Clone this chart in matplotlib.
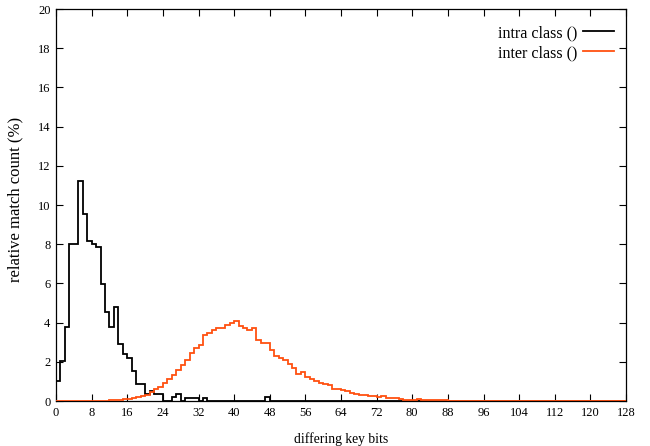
import numpy as np
import matplotlib
matplotlib.use("Agg")
import matplotlib.pyplot as plt
from matplotlib.lines import Line2D

plt.rcParams['font.family'] = ['Liberation Serif', 'DejaVu Serif']
plt.rcParams['font.size'] = 10

# relative match count (%) per number of differing key bits, bins 0..127
intra = [1.0, 2.04, 3.76, 8.0, 8.0, 11.24, 9.55, 8.15, 8.02, 7.84,
         5.97, 4.56, 3.76, 4.8, 2.91, 2.4, 2.2, 1.53, 0.87, 0.87,
         0.37, 0.53, 0.37, 0.37, 0.0, 0.0, 0.19, 0.35, 0.0, 0.17,
         0.17, 0.17, 0.0, 0.17, 0.0, 0.0, 0.0, 0.0, 0.0, 0.0,
         0.0, 0.0, 0.0, 0.0, 0.0, 0.0, 0.0, 0.19] + [0.0] * 80

inter = [0.0] * 10 + [
    0.01, 0.02, 0.03, 0.04, 0.06, 0.08, 0.11, 0.13, 0.19, 0.25,
    0.33, 0.47, 0.6, 0.73, 0.9, 1.1, 1.33, 1.58, 1.84, 2.1,
    2.43, 2.72, 2.86, 3.37, 3.49, 3.62, 3.74, 3.74, 3.88, 3.96,
    4.08, 3.83, 3.71, 3.62, 3.71, 3.11, 2.94, 2.94, 2.6, 2.3,
    2.18, 2.08, 1.9, 1.7, 1.4, 1.5, 1.24, 1.1, 1.02, 0.94,
    0.89, 0.8, 0.6, 0.6, 0.55, 0.5, 0.43, 0.38, 0.33, 0.29,
    0.27, 0.26, 0.2, 0.27, 0.15, 0.15, 0.14, 0.1, 0.07, 0.07,
    0.07, 0.12, 0.06, 0.05, 0.04, 0.04, 0.03, 0.03] + [0.0] * 40

edges = np.arange(129)
xticks = np.arange(0, 129, 8)
yticks = np.arange(0, 21, 2)

orange = '#ff5010'

fig = plt.figure(figsize=(6.5, 4.46), dpi=100)
ax = fig.add_axes([56 / 650, 1 - 401 / 446, 570 / 650, 392 / 446])

ax.stairs(intra, edges, color='black', linewidth=1.3, baseline=None, zorder=2)
ax.stairs(inter, edges, color=orange, linewidth=1.3, baseline=None, zorder=3)

ax.set_xlim(0, 128)
ax.set_ylim(0, 20)
ax.set_xticks(xticks)
ax.set_yticks(yticks)
ax.tick_params(direction='in', top=True, right=True, length=5, width=0.8,
               pad=4, labelsize=9)
for s in ax.spines.values():
    s.set_linewidth(0.9)

ax.set_xlabel('differing key bits', fontsize=9.8, labelpad=10)
ax.set_ylabel('relative match count (%)', fontsize=12)
ax.yaxis.set_label_coords(-0.058, 0.515)

handles = [Line2D([], [], color='black', linewidth=1.3),
           Line2D([], [], color=orange, linewidth=1.3)]
ax.legend(handles, ['intra class ()', 'inter class ()'], loc='upper right',
          bbox_to_anchor=(614 / 650, 1 - 25 / 446), bbox_transform=fig.transFigure,
          frameon=False, markerfirst=False, handlelength=1.9, handletextpad=0.4,
          labelspacing=0.25, borderpad=0, borderaxespad=0, fontsize=11.6)

fig.savefig('out.png', dpi=100)
